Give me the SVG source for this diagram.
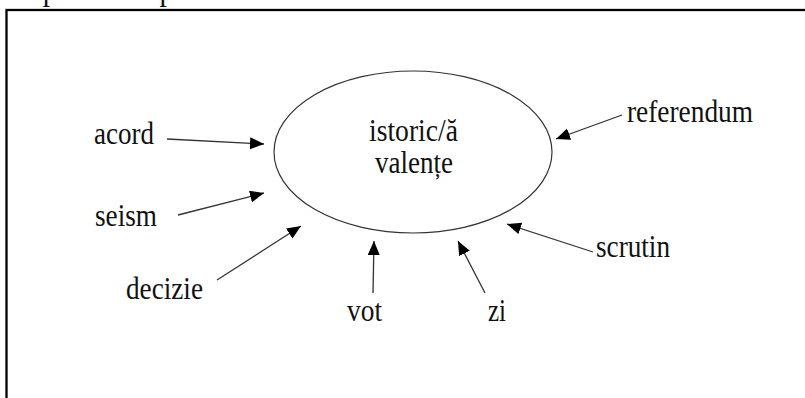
<svg xmlns="http://www.w3.org/2000/svg" width="805" height="398" viewBox="0 0 805 398">
<style>
text{font-family:"Liberation Serif","Times New Roman",serif;font-size:31px;fill:#111}
.c{stroke:#333;stroke-width:1.3;fill:none;marker-end:url(#ah)}
</style>
<defs>
<marker id="ah" markerUnits="userSpaceOnUse" markerWidth="16" markerHeight="14" refX="14" refY="6" orient="auto">
<path d="M0,0 L14,6 L0,12 z" fill="#000"/>
</marker>
</defs>
<rect width="805" height="398" fill="#fff"/>
<text x="4" y="0" word-spacing="9" textLength="262" lengthAdjust="spacingAndGlyphs">în perioada prezentă.</text>
<rect x="6.5" y="10" width="900" height="500" fill="none" stroke="#000" stroke-width="2.3"/>
<g id="center">
<ellipse cx="413" cy="152" rx="139" ry="81" fill="none" stroke="#333" stroke-width="1.2"/>
<text x="369" y="141" textLength="89" lengthAdjust="spacingAndGlyphs">istoric/ă</text>
<text x="375" y="173" textLength="78" lengthAdjust="spacingAndGlyphs">valențe</text>
</g>
<g id="acord"><text x="94" y="144" textLength="60" lengthAdjust="spacingAndGlyphs">acord</text></g>
<g id="seism"><text x="95" y="226" textLength="62" lengthAdjust="spacingAndGlyphs">seism</text></g>
<g id="decizie"><text x="126" y="299" textLength="77" lengthAdjust="spacingAndGlyphs">decizie</text></g>
<g id="vot"><text x="347" y="321" textLength="35" lengthAdjust="spacingAndGlyphs">vot</text></g>
<g id="zi"><text x="488" y="321" textLength="18" lengthAdjust="spacingAndGlyphs">zi</text></g>
<g id="scrutin"><text x="596" y="257" textLength="74" lengthAdjust="spacingAndGlyphs">scrutin</text></g>
<g id="referendum"><text x="627" y="122" textLength="126" lengthAdjust="spacingAndGlyphs">referendum</text></g>
<g id="connectors">
<line class="c" x1="167" y1="139" x2="264" y2="144"/>
<line class="c" x1="178" y1="215" x2="264" y2="193"/>
<line class="c" x1="217" y1="280" x2="301" y2="226"/>
<line class="c" x1="373" y1="293" x2="374" y2="241"/>
<line class="c" x1="485" y1="293" x2="458" y2="241"/>
<line class="c" x1="593" y1="252" x2="507" y2="224"/>
<line class="c" x1="622" y1="115" x2="556" y2="139"/>
</g>
</svg>
